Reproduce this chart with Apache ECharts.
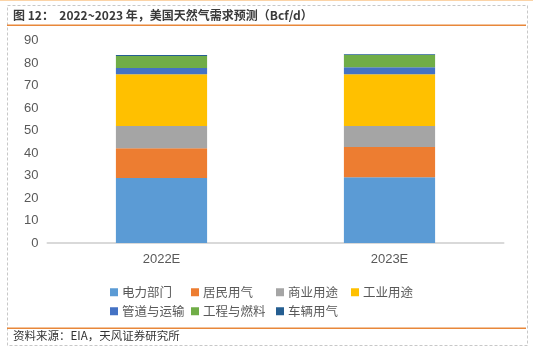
<!DOCTYPE html>
<html><head><meta charset="utf-8">
<script src="https://cdn.jsdelivr.net/npm/echarts@6/dist/echarts.min.js"></script>
<style>html,body{margin:0;padding:0;background:#fff}#c{width:533px;height:350px}</style>
</head><body><div id="c"></div>
<script>
const categories = ['2022E', '2023E'];
const seriesNames = ['电力部门', '居民用气', '商业用途', '工业用途', '管道与运输', '工程与燃料', '车辆用气'];
const power = [28.9, 29.2];
const residential = [13.3, 13.5];
const commercial = [9.8, 9.3];
const industrial = [23.1, 23.1];
const pipeline = [2.7, 3.1];
const leaseFuel = [5.4, 5.4];
const vehicle = [0.4, 0.4];
const yTicks = [0, 10, 20, 30, 40, 50, 60, 70, 80, 90];
const titleText = '图 12：  2022~2023 年，美国天然气需求预测（Bcf/d）';
const sourceText = '资料来源：EIA，天风证券研究所';

const values = [power, residential, commercial, industrial, pipeline, leaseFuel, vehicle];
const colors = ['#5B9BD5', '#ED7D31', '#A5A5A5', '#FFC000', '#4472C4', '#70AD47', '#255E91'];
const font = '"Noto Sans CJK SC", "Liberation Sans", sans-serif';
const numFont = '"Liberation Sans", Arial, sans-serif';

const legendPos = [[105, 281], [186, 281], [271, 281], [346, 281], [105, 300], [186, 300], [271, 300]];
const legends = seriesNames.map((n, i) => ({
  data: [n], left: legendPos[i][0], top: legendPos[i][1], itemWidth: 8, itemHeight: 8, itemGap: 0,
  icon: 'rect', textStyle: { fontSize: 12.5, color: '#595959', fontFamily: font, padding: [0, 0, 0, -1] },
  selectedMode: false
}));

const chart = echarts.init(document.getElementById('c'), null, { renderer: 'canvas' });
chart.setOption({
  animation: false,
  backgroundColor: '#fff',
  grid: { left: 47.5, right: 29.5, top: 40.7, bottom: 107, containLabel: false },
  legend: legends,
  xAxis: {
    type: 'category', data: categories,
    axisLine: { lineStyle: { color: '#d9d9d9', width: 2 } },
    axisTick: { show: false },
    axisLabel: { color: '#595959', fontSize: 13, fontFamily: numFont, margin: 10 }
  },
  yAxis: {
    type: 'value', min: yTicks[0], max: yTicks[yTicks.length - 1], interval: 10,
    splitLine: { show: false }, axisLine: { show: false }, axisTick: { show: false },
    axisLabel: { color: '#595959', fontSize: 13, fontFamily: numFont, margin: 9 }
  },
  series: seriesNames.map((n, i) => ({
    name: n, type: 'bar', stack: 'total', data: values[i], barWidth: '40%',
    itemStyle: { color: colors[i] }
  })),
  graphic: [
    { type: 'rect', shape: { x: 0, y: 0, width: 533, height: 1 }, style: { fill: '#fbd3a6' } },
    { type: 'rect', shape: { x: 7.5, y: 5.5, width: 520, height: 340 }, style: { fill: 'none', stroke: '#c8c8c8', lineWidth: 1, lineDash: [3, 2] } },
    { type: 'text', left: 13, top: 9, style: { text: titleText, fontSize: 12, fontWeight: 'bold', fill: '#3a3a3a', fontFamily: font } },
    { type: 'rect', shape: { x: 7, y: 24.5, width: 519, height: 1.5 }, style: { fill: '#E8873A' } },
    { type: 'rect', shape: { x: 7, y: 327.5, width: 519, height: 1.5 }, style: { fill: '#E8873A' } },
    { type: 'text', left: 13, top: 330, style: { text: sourceText, fontSize: 11.5, fill: '#333', fontFamily: font } }
  ]
});
</script></body></html>
